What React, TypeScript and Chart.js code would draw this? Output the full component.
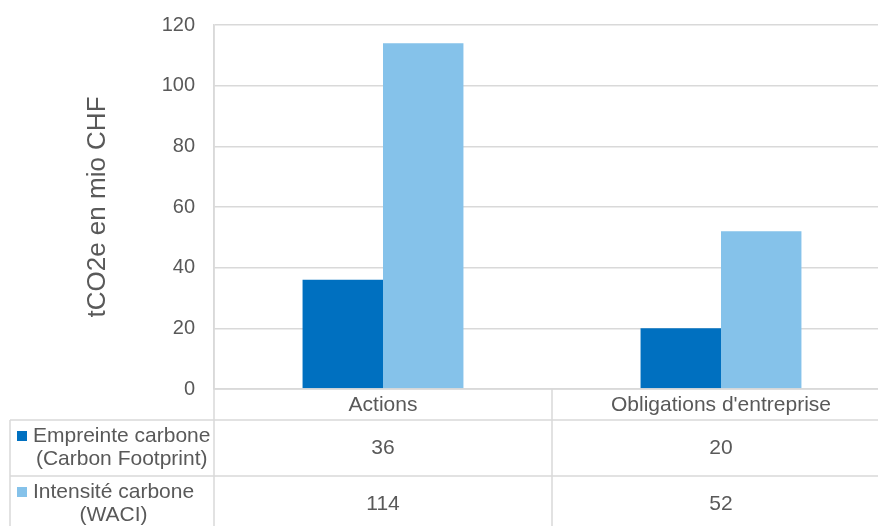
import React, { useEffect, useRef } from "react";
import { Chart, registerables } from "chart.js";

Chart.register(...registerables);

const categories = ["Actions", "Obligations d'entreprise"];
const seriesNames = [
  ["Empreinte carbone", "(Carbon Footprint)"],
  ["Intensité carbone", "(WACI)"],
];
const footprintValues = [36, 20];
const waciValues = [114, 52];
const yTicks = [0, 20, 40, 60, 80, 100, 120];
const yTitle = "tCO2e en mio CHF";

const DARK = "#0070C0";
const LIGHT = "#85C2EA";
const TEXT = "#595959";
const LINE = "#d9d9d9";
const FONT = "'Liberation Sans', Arial, sans-serif";

const W = 900;
const H = 540;

const tablePlugin = {
  id: "dataTable",
  afterDraw(chart: any) {
    const { ctx, chartArea, scales } = chart;
    const xs = scales.x;
    const left = chartArea.left;
    const axisY = chartArea.bottom;
    const row0 = axisY + 31;
    const row1 = row0 + 56;
    const row2 = row1 + 56;
    const tableLeft = 10;
    const right = W;
    const cx = categories.map((_, i) => xs.getPixelForValue(i));
    const mid = (cx[0] + cx[1]) / 2;

    ctx.save();
    ctx.strokeStyle = LINE;
    ctx.lineWidth = 1.5;
    ctx.beginPath();
    ctx.moveTo(left, axisY);
    ctx.lineTo(right, axisY);
    ctx.moveTo(tableLeft, row0);
    ctx.lineTo(right, row0);
    ctx.moveTo(tableLeft, row1);
    ctx.lineTo(right, row1);
    ctx.moveTo(left, chartArea.top);
    ctx.lineTo(left, H);
    ctx.moveTo(tableLeft, row0);
    ctx.lineTo(tableLeft, H);
    ctx.moveTo(mid, axisY);
    ctx.lineTo(mid, H);
    ctx.stroke();

    ctx.fillStyle = TEXT;
    ctx.font = `21px ${FONT}`;
    ctx.textAlign = "center";
    ctx.textBaseline = "middle";
    categories.forEach((c, i) => ctx.fillText(c, cx[i], (axisY + row0) / 2 + 1));

    const rows = [
      { top: row0, bottom: row1, values: footprintValues, color: DARK, names: seriesNames[0] },
      { top: row1, bottom: row2, values: waciValues, color: LIGHT, names: seriesNames[1] },
    ];
    rows.forEach((r) => {
      const cy = (r.top + r.bottom) / 2;
      r.values.forEach((v, i) => {
        ctx.fillStyle = TEXT;
        ctx.fillText(String(v), cx[i], cy);
      });
      const textLeft = 33;
      const w0 = ctx.measureText(r.names[0]).width;
      const w1 = ctx.measureText(r.names[1]).width;
      const bw = Math.max(w0, w1);
      const bc = textLeft + bw / 2;
      const y0 = cy - 12;
      const y1 = cy + 11;
      ctx.fillStyle = r.color;
      ctx.fillRect(17, y0 - 5, 10, 10);
      ctx.fillStyle = TEXT;
      ctx.fillText(r.names[0], bc, y0);
      ctx.fillText(r.names[1], bc, y1);
    });
    ctx.restore();
  },
};

export default function App() {
  const ref = useRef<HTMLCanvasElement | null>(null);
  useEffect(() => {
    const canvas = ref.current;
    if (!canvas) return;
    const chart = new Chart(canvas, {
      type: "bar",
      data: {
        labels: categories,
        datasets: [
          {
            label: seriesNames[0].join(" "),
            data: footprintValues,
            backgroundColor: DARK,
            borderWidth: 0,
          },
          {
            label: seriesNames[1].join(" "),
            data: waciValues,
            backgroundColor: LIGHT,
            borderWidth: 0,
          },
        ],
      },
      options: {
        animation: false,
        responsive: false,
        devicePixelRatio: 1,
        layout: { padding: { top: 25, bottom: H - 389, left: 0, right: W - 890 } },
        plugins: {
          legend: { display: false },
          tooltip: { enabled: false },
        },
        datasets: {
          bar: { categoryPercentage: 0.476, barPercentage: 1 },
        },
        scales: {
          x: { display: false },
          y: {
            min: 0,
            max: 120,
            afterBuildTicks: (s: any) => {
              s.ticks = yTicks.map((v) => ({ value: v }));
            },
            afterFit: (s: any) => {
              s.width = 214;
              s.paddingTop = 0;
              s.paddingBottom = 0;
            },
            ticks: {
              color: TEXT,
              font: { family: FONT, size: 20 },
              padding: 19,
            },
            grid: { color: LINE, lineWidth: 1.5, drawTicks: false },
            border: { display: true, color: LINE, width: 1.5 },
            title: {
              display: true,
              text: yTitle,
              color: TEXT,
              font: { family: FONT, size: 26 },
              padding: { top: 82, bottom: 0 },
            },
          },
        },
      },
      plugins: [tablePlugin],
    });
    return () => chart.destroy();
  }, []);
  return (
    <div
      style={{
        position: "fixed",
        left: 0,
        top: 0,
        width: 878,
        height: 526,
        overflow: "hidden",
        background: "#fff",
      }}
    >
      <canvas ref={ref} width={W} height={H} style={{ display: "block", width: W, height: H }} />
    </div>
  );
}
